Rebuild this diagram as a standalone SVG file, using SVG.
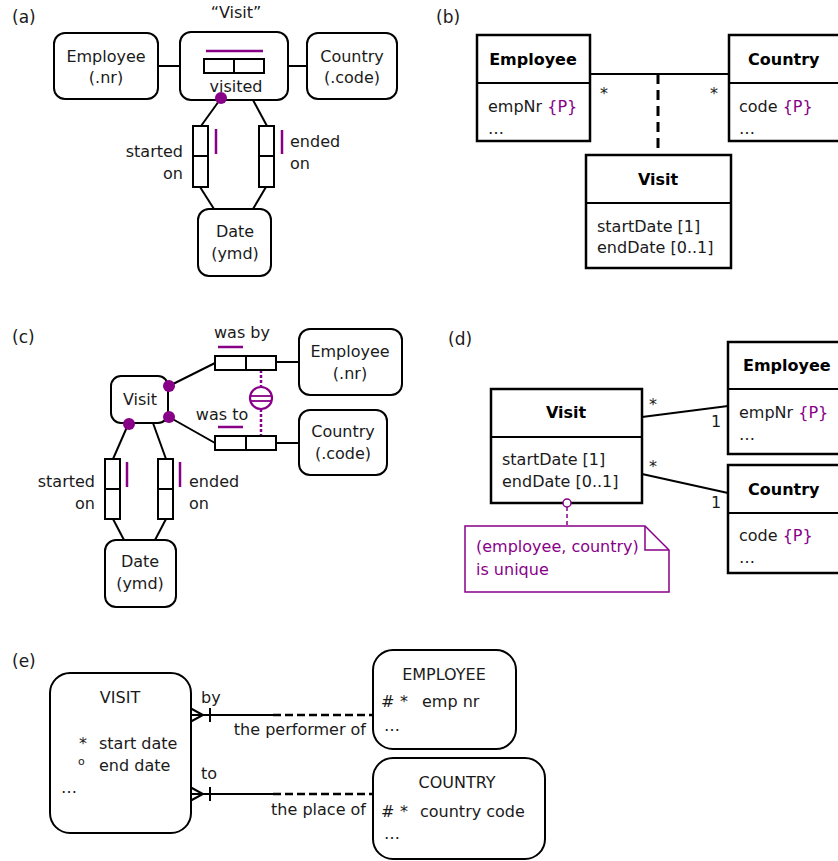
<svg xmlns="http://www.w3.org/2000/svg" width="838" height="861" viewBox="0 0 838 861">
  <style>
    text { font-family: "DejaVu Sans", Verdana, sans-serif; font-size: 16px; fill: #1a1a1a; }
    .lbl { font-size: 17px; }
    .b { font-weight: bold; fill: #000; }
    .c { text-anchor: middle; }
    .r { text-anchor: end; }
    .pu { fill: #880088; }
    .obj { fill: #fff; stroke: #000; stroke-width: 2; }
    .role { fill: #fff; stroke: #000; stroke-width: 2; }
    .cls { fill: #fff; stroke: #000; stroke-width: 2.5; }
    .ln { fill: none; stroke: #000; stroke-width: 2; }
    .uc { fill: none; stroke: #880088; stroke-width: 2.5; }
    .dot { fill: #880088; }
  </style>

  <!-- ===== (a) objectified fact type ===== -->
  <text class="lbl" x="12" y="23">(a)</text>
  <g id="a-connectors">
    <line class="ln" x1="158" y1="66" x2="204" y2="66"/>
    <line class="ln" x1="264" y1="66" x2="307" y2="66"/>
    <line class="ln" x1="219" y1="101" x2="201" y2="126"/>
    <line class="ln" x1="253" y1="100" x2="267" y2="126"/>
    <line class="ln" x1="200" y1="187" x2="214" y2="209"/>
    <line class="ln" x1="266" y1="187" x2="253" y2="209"/>
  </g>
  <g id="a-employee">
    <rect class="obj" x="54" y="33" width="104" height="66" rx="11"/>
    <text class="c" x="106" y="62">Employee</text>
    <text class="c" x="106" y="83">(.nr)</text>
  </g>
  <g id="a-visit">
    <text class="c" x="236" y="18">“Visit”</text>
    <rect class="obj" x="180" y="32" width="108" height="68" rx="11"/>
    <line class="uc" x1="206" y1="51" x2="263" y2="51"/>
    <rect class="role" x="204" y="59" width="60" height="14"/>
    <line class="ln" x1="234" y1="59" x2="234" y2="73"/>
    <text class="c" x="236" y="92">visited</text>
    <circle class="dot" cx="221" cy="98" r="6"/>
  </g>
  <g id="a-country">
    <rect class="obj" x="307" y="33" width="90" height="66" rx="11"/>
    <text class="c" x="352" y="62">Country</text>
    <text class="c" x="352" y="83">(.code)</text>
  </g>
  <g id="a-started-on">
    <rect class="role" x="193" y="126" width="15" height="61"/>
    <line class="ln" x1="193" y1="156" x2="208" y2="156"/>
    <line class="uc" x1="216" y1="129" x2="216" y2="154"/>
    <text class="r" x="183" y="157">started</text>
    <text class="r" x="183" y="179">on</text>
  </g>
  <g id="a-ended-on">
    <rect class="role" x="259" y="126" width="15" height="61"/>
    <line class="ln" x1="259" y1="156" x2="274" y2="156"/>
    <line class="uc" x1="282" y1="130" x2="282" y2="154"/>
    <text x="290" y="147">ended</text>
    <text x="290" y="169">on</text>
  </g>
  <g id="a-date">
    <rect class="obj" x="198" y="209" width="73" height="67" rx="11"/>
    <text class="c" x="235" y="237">Date</text>
    <text class="c" x="235" y="259">(ymd)</text>
  </g>

  <!-- ===== (b) UML association class ===== -->
  <text class="lbl" x="436" y="23">(b)</text>
  <g id="b-connectors">
    <line class="ln" x1="590" y1="74" x2="729" y2="74"/>
    <line x1="658" y1="74" x2="658" y2="155" stroke="#000" stroke-width="3" stroke-dasharray="10,6"/>
    <text class="c" x="604" y="99">*</text>
    <text class="c" x="714" y="99">*</text>
  </g>
  <g id="b-employee">
    <rect class="cls" x="477" y="35" width="113" height="106"/>
    <line class="ln" x1="477" y1="83" x2="590" y2="83"/>
    <text class="c b" x="533" y="65">Employee</text>
    <text x="488" y="112">empNr <tspan class="pu">{P}</tspan></text>
    <text x="488" y="134">…</text>
  </g>
  <g id="b-country">
    <rect class="cls" x="729" y="35" width="120" height="106"/>
    <line class="ln" x1="729" y1="83" x2="849" y2="83"/>
    <text class="b" x="748" y="65">Country</text>
    <text x="739" y="112">code <tspan class="pu">{P}</tspan></text>
    <text x="739" y="134">…</text>
  </g>
  <g id="b-visit">
    <rect class="cls" x="586" y="155" width="145" height="113"/>
    <line class="ln" x1="586" y1="203" x2="731" y2="203"/>
    <text class="c b" x="658" y="185">Visit</text>
    <text x="597" y="232">startDate [1]</text>
    <text x="597" y="253">endDate [0..1]</text>
  </g>

  <!-- ===== (c) coreferenced entity type ===== -->
  <text class="lbl" x="12" y="343">(c)</text>
  <g id="c-connectors">
    <line class="ln" x1="169" y1="386" x2="215" y2="363"/>
    <line class="ln" x1="169" y1="417" x2="215" y2="443"/>
    <line class="ln" x1="276" y1="362" x2="299" y2="362"/>
    <line class="ln" x1="276" y1="443" x2="299" y2="443"/>
    <line class="ln" x1="127" y1="427" x2="113" y2="459"/>
    <line class="ln" x1="153" y1="423" x2="166" y2="459"/>
    <line class="ln" x1="113" y1="519" x2="124" y2="540"/>
    <line class="ln" x1="166" y1="519" x2="155" y2="540"/>
    <line x1="261" y1="370" x2="261" y2="387" stroke="#880088" stroke-width="2.5" stroke-dasharray="3,2"/>
    <line x1="261" y1="409" x2="261" y2="435" stroke="#880088" stroke-width="2.5" stroke-dasharray="3,2"/>
  </g>
  <g id="c-visit">
    <rect class="obj" x="111" y="376" width="57" height="47" rx="10"/>
    <text class="c" x="140" y="405">Visit</text>
    <circle class="dot" cx="169" cy="386" r="6"/>
    <circle class="dot" cx="169" cy="417" r="6"/>
    <circle class="dot" cx="129" cy="424" r="6"/>
  </g>
  <g id="c-was-by">
    <text class="c" x="242" y="338">was by</text>
    <line class="uc" x1="218" y1="347" x2="243" y2="347"/>
    <rect class="role" x="215" y="356" width="61" height="14"/>
    <line class="ln" x1="246" y1="356" x2="246" y2="370"/>
  </g>
  <g id="c-was-to">
    <text class="c" x="222" y="420">was to</text>
    <line class="uc" x1="218" y1="427" x2="243" y2="427"/>
    <rect class="role" x="215" y="436" width="61" height="14"/>
    <line class="ln" x1="246" y1="436" x2="246" y2="450"/>
  </g>
  <g id="c-uniqueness">
    <circle cx="261" cy="398" r="11" fill="#fff" stroke="#880088" stroke-width="2.2"/>
    <line x1="251" y1="396" x2="271" y2="396" stroke="#880088" stroke-width="1.8"/>
    <line x1="251" y1="401" x2="271" y2="401" stroke="#880088" stroke-width="1.8"/>
  </g>
  <g id="c-employee">
    <rect class="obj" x="299" y="329" width="103" height="66" rx="11"/>
    <text class="c" x="350" y="357">Employee</text>
    <text class="c" x="350" y="379">(.nr)</text>
  </g>
  <g id="c-country">
    <rect class="obj" x="299" y="410" width="88" height="65" rx="11"/>
    <text class="c" x="343" y="437">Country</text>
    <text class="c" x="343" y="459">(.code)</text>
  </g>
  <g id="c-started-on">
    <rect class="role" x="105" y="459" width="15" height="60"/>
    <line class="ln" x1="105" y1="489" x2="120" y2="489"/>
    <line class="uc" x1="127" y1="462" x2="127" y2="487"/>
    <text class="r" x="95" y="487">started</text>
    <text class="r" x="95" y="509">on</text>
  </g>
  <g id="c-ended-on">
    <rect class="role" x="158" y="459" width="15" height="60"/>
    <line class="ln" x1="158" y1="489" x2="173" y2="489"/>
    <line class="uc" x1="180" y1="462" x2="180" y2="487"/>
    <text x="189" y="487">ended</text>
    <text x="189" y="509">on</text>
  </g>
  <g id="c-date">
    <rect class="obj" x="105" y="540" width="71" height="67" rx="11"/>
    <text class="c" x="140" y="567">Date</text>
    <text class="c" x="140" y="589">(ymd)</text>
  </g>

  <!-- ===== (d) UML classes with note ===== -->
  <text class="lbl" x="448" y="345">(d)</text>
  <g id="d-connectors">
    <line class="ln" x1="642" y1="417" x2="728" y2="406"/>
    <line class="ln" x1="642" y1="474" x2="728" y2="493"/>
    <text class="c" x="653" y="410">*</text>
    <text class="c" x="653" y="472">*</text>
    <text class="c" x="716" y="427">1</text>
    <text class="c" x="716" y="508">1</text>
    <line x1="567" y1="507" x2="567" y2="526" stroke="#880088" stroke-width="1.5" stroke-dasharray="4,3"/>
  </g>
  <g id="d-visit">
    <rect class="cls" x="491" y="389" width="151" height="114"/>
    <line class="ln" x1="491" y1="437" x2="642" y2="437"/>
    <text class="c b" x="566" y="418">Visit</text>
    <text x="502" y="465">startDate [1]</text>
    <text x="502" y="487">endDate [0..1]</text>
  </g>
  <g id="d-employee">
    <rect class="cls" x="728" y="342" width="120" height="112"/>
    <line class="ln" x1="728" y1="389" x2="848" y2="389"/>
    <text class="b" x="743" y="371">Employee</text>
    <text x="739" y="418">empNr <tspan class="pu">{P}</tspan></text>
    <text x="739" y="440">…</text>
  </g>
  <g id="d-country">
    <rect class="cls" x="728" y="465" width="120" height="108"/>
    <line class="ln" x1="728" y1="513" x2="848" y2="513"/>
    <text class="b" x="748" y="495">Country</text>
    <text x="739" y="541">code <tspan class="pu">{P}</tspan></text>
    <text x="739" y="563">…</text>
  </g>
  <g id="d-note">
    <circle cx="567" cy="503" r="4" fill="#fff" stroke="#880088" stroke-width="1.5"/>
    <path d="M465,526 H645 L669,550 V592 H465 Z" fill="#fff" stroke="#880088" stroke-width="1.5"/>
    <path d="M645,526 V550 H669" fill="none" stroke="#880088" stroke-width="1.5"/>
    <text class="pu" x="476" y="552">(employee, country)</text>
    <text class="pu" x="476" y="575">is unique</text>
  </g>

  <!-- ===== (e) Barker ER ===== -->
  <text class="lbl" x="12" y="667">(e)</text>
  <g id="e-connectors">
    <line class="ln" x1="190" y1="715" x2="273" y2="715"/>
    <line x1="273" y1="715" x2="373" y2="715" stroke="#000" stroke-width="2.5" stroke-dasharray="8,4"/>
    <polyline class="ln" points="190,708 203,715 190,722"/>
    <line class="ln" x1="210" y1="708" x2="210" y2="722"/>
    <text x="201" y="703">by</text>
    <text class="r" x="366" y="735">the performer of</text>

    <line class="ln" x1="190" y1="794" x2="273" y2="794"/>
    <line x1="273" y1="794" x2="373" y2="794" stroke="#000" stroke-width="2.5" stroke-dasharray="8,4"/>
    <polyline class="ln" points="190,787 203,794 190,801"/>
    <line class="ln" x1="210" y1="787" x2="210" y2="801"/>
    <text x="201" y="779">to</text>
    <text class="r" x="366" y="815">the place of</text>
  </g>
  <g id="e-visit">
    <rect class="obj" x="50" y="673" width="141" height="160" rx="20"/>
    <text class="c" x="120" y="703">VISIT</text>
    <text x="79" y="749">*</text>
    <text x="99" y="749">start date</text>
    <text x="78" y="765" style="font-size:11px">o</text>
    <text x="99" y="771">end date</text>
    <text x="61" y="793">…</text>
  </g>
  <g id="e-employee">
    <rect class="obj" x="373" y="650" width="143" height="99" rx="20"/>
    <text class="c" x="444" y="680">EMPLOYEE</text>
    <text x="381" y="707">#</text>
    <text x="400" y="707">*</text>
    <text x="422" y="707">emp nr</text>
    <text x="384" y="731">…</text>
  </g>
  <g id="e-country">
    <rect class="obj" x="373" y="758" width="172" height="101" rx="20"/>
    <text class="c" x="457" y="788">COUNTRY</text>
    <text x="381" y="817">#</text>
    <text x="400" y="817">*</text>
    <text x="420" y="817">country code</text>
    <text x="384" y="839">…</text>
  </g>
</svg>
